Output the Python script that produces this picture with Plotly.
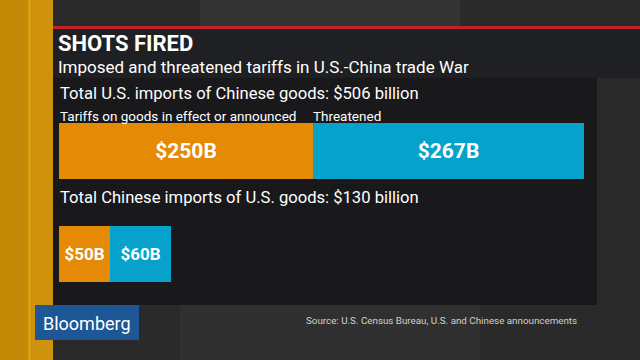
import plotly.graph_objects as go

# ---- data ----
groups = ["Total U.S. imports of Chinese goods: $506 billion",
          "Total Chinese imports of U.S. goods: $130 billion"]
in_effect = [250, 50]      # $B, tariffs in effect or announced
threatened = [267, 60]     # $B, threatened
series_names = ["Tariffs on goods in effect or announced", "Threatened"]
title = "SHOTS FIRED"
subtitle = "Imposed and threatened tariffs in U.S.-China trade War"
source = "Source: U.S. Census Bureau, U.S. and Chinese announcements"
brand = "Bloomberg"

# ---- layout constants ----
W, H = 640, 360
ROW_Y = [151, 254]          # pixel-row centres of the two bars
BAR_H = 56
X0_PX = 59                  # pixel where value 0 sits
PX_PER_UNIT = 1.015
FONT = "Roboto"
ORANGE = "#e48a04"
BLUE = "#06a2cc"


def px(x):
    return x / W


def py(y):
    return 1 - y / H


fig = go.Figure()
fig.add_trace(go.Bar(
    x=in_effect, y=ROW_Y, orientation="h", width=BAR_H, name=series_names[0],
    marker=dict(color=ORANGE, line=dict(width=0)),
    texttemplate="<b>$%{x}B</b>", textposition="inside", insidetextanchor="middle",
    textfont=dict(family=FONT, color="white", size=[21, 17]), constraintext="none",
    hoverinfo="skip"))
fig.add_trace(go.Bar(
    x=threatened, y=ROW_Y, orientation="h", width=BAR_H, name=series_names[1],
    marker=dict(color=BLUE, line=dict(width=0)),
    texttemplate="<b>$%{x}B</b>", textposition="inside", insidetextanchor="middle",
    textfont=dict(family=FONT, color="white", size=[21, 17]), constraintext="none",
    hoverinfo="skip"))

shapes = []


def rect(x0, y0, x1, y1, color):
    shapes.append(dict(type="rect", xref="paper", yref="paper",
                       x0=px(x0), x1=px(x1), y0=py(y1), y1=py(y0),
                       fillcolor=color, line=dict(width=0), layer="below"))


# background tones
rect(0, 0, W, H, "#2a2a2a")
rect(200, 0, 460, 27, "#333333")
rect(180, 305, 480, H, "#303030")
# gold strip on the left
rect(0, 0, 28, H, "#c48906")
rect(28, 0, 31, H, "#d9a012")
rect(31, 0, 53, H, "#cf920c")
# red rule, title panel, chart panel
rect(53, 26, W, 29, "#c8202a")
rect(53, 29, W, 78, "#1f2023")
rect(53, 78, 597, 305, "#19191c")
# logo box
rect(35, 305, 139, 340, "#1d5796")

annotations = []


def text(s, x, y, size, color="white", bold=False, anchor="left"):
    annotations.append(dict(
        text=f"<b>{s}</b>" if bold else s, xref="paper", yref="paper",
        x=px(x), y=py(y), xanchor=anchor, yanchor="middle", showarrow=False,
        font=dict(family=FONT, size=size, color=color)))


text(title, 56, 43.5, 22, bold=True)
text(subtitle, 56, 67, 17)
text(groups[0], 58, 94, 16.6)
text(series_names[0], 58, 116, 13.5)
text(series_names[1], 311, 116, 13.5)
text(groups[1], 58, 197, 16.6)
text(brand, 87, 323, 18, anchor="center")
text(source, 304, 320, 9.8, color="#d0d0d0")

fig.update_layout(
    width=W, height=H, margin=dict(l=0, r=0, t=0, b=0),
    paper_bgcolor="#2a2a2a", plot_bgcolor="rgba(0,0,0,0)",
    barmode="stack", showlegend=False, bargap=0,
    xaxis=dict(range=[-X0_PX / PX_PER_UNIT, (W - X0_PX) / PX_PER_UNIT],
               visible=False, fixedrange=True),
    yaxis=dict(range=[H, 0], visible=False, fixedrange=True),
    shapes=shapes, annotations=annotations,
)

fig.write_html("out.html", config={"displayModeBar": False},
               post_script="document.body.style.margin='0px';")
